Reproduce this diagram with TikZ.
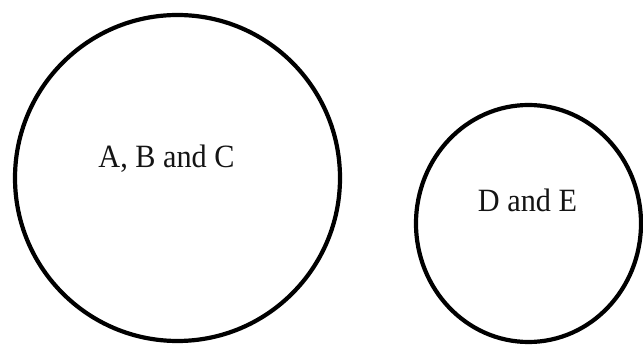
\documentclass[tikz,border=0pt]{standalone}
\usepackage{fontspec}
\setmainfont[FakeStretch=0.93]{Liberation Serif}
\usetikzlibrary{shapes.geometric}
\begin{document}
\begin{tikzpicture}[x=1pt,y=1pt,
  setring/.style={draw=black, line width=4.2pt, ellipse, inner sep=0pt},
  setlabel/.style={anchor=base, inner sep=0pt, text=black!92,
    font=\fontsize{32.5}{38}\selectfont}]
  \useasboundingbox (0,0) rectangle (643,345);
  \fill[white] (0,0) rectangle (643,345);
  % the two sets
  \node[setring, minimum width=325pt, minimum height=326pt] (abc) at (177.5,167) {};
  \node[setring, minimum width=225pt, minimum height=237pt] (de) at (528.5,121.5) {};
  % their labels
  \node[setlabel] (abclabel) at (166.5,177) {A, B and C};
  \node[setlabel] (delabel) at (527.5,133) {D and E};
\end{tikzpicture}
\end{document}
